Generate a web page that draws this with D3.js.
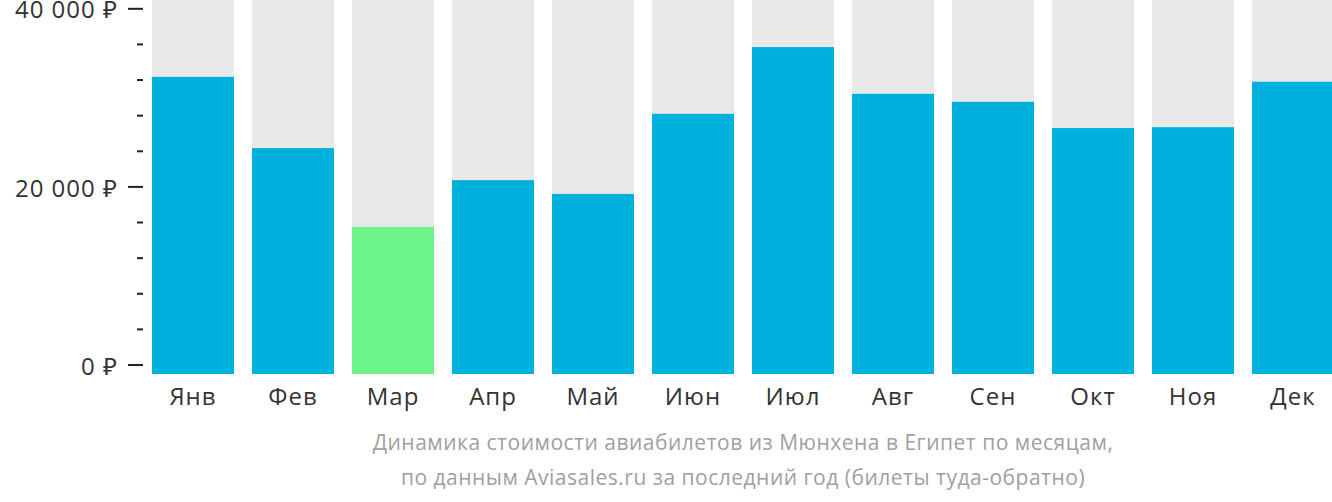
<!DOCTYPE html>
<html>
<head>
<meta charset="utf-8">
<script src="https://cdn.jsdelivr.net/npm/d3@7"></script>
<style>
  html, body { margin: 0; padding: 0; background: #fff; }
  svg { display: block; }
</style>
</head>
<body>
<svg id="chart" width="1332" height="502"></svg>
<script>
const months = ["Янв", "Фев", "Мар", "Апр", "Май", "Июн", "Июл", "Авг", "Сен", "Окт", "Ноя", "Дек"];
const prices = [32300, 24300, 15450, 20700, 19150, 28150, 35650, 30400, 29500, 26550, 26650, 31750];
const cheapestMonth = "Мар";
const yTickValues = [0, 20000, 40000];
const yMinorValues = [4000, 8000, 12000, 16000, 24000, 28000, 32000, 36000];
const captionLines = [
  "Динамика стоимости авиабилетов из Мюнхена в Египет по месяцам,",
  "по данным Aviasales.ru за последний год (билеты туда-обратно)"
];

const svg = d3.select("#chart");
const font = "'Open Sans', 'Noto Sans', sans-serif";

const plotBottom = 374;
const x = d3.scaleBand().domain(months).range([143, 1343]).paddingInner(0.18).paddingOuter(0.09);
const y = d3.scaleLinear().domain([0, 40000]).range([364.5, 8.3]);

// background bars
svg.append("g").selectAll("rect").data(months).join("rect")
  .attr("x", d => x(d)).attr("width", x.bandwidth())
  .attr("y", 0).attr("height", plotBottom)
  .attr("fill", "#e8e8e8");

// value bars
svg.append("g").selectAll("rect").data(months.map((m, i) => ({m, v: prices[i]}))).join("rect")
  .attr("x", d => x(d.m)).attr("width", x.bandwidth())
  .attr("y", d => y(d.v)).attr("height", d => plotBottom - y(d.v))
  .attr("fill", d => d.m === cheapestMonth ? "#6cf48a" : "#00b1dd");

// y axis major
const yAxis = d3.axisLeft(y).tickValues(yTickValues).tickSize(15).tickPadding(10)
  .tickFormat(d => d3.format(",")(d).replace(/,/g, " ") + " ₽");
const gy = svg.append("g").attr("transform", "translate(143,0)").call(yAxis);
gy.select(".domain").remove();
gy.selectAll(".tick line").attr("stroke", "#222").attr("stroke-width", 2);
gy.selectAll(".tick text").attr("fill", "#333").attr("dy", "0.4em")
  .style("font-family", font).style("font-size", "24px").style("letter-spacing", "1px");

// y axis minor
const yMinor = d3.axisLeft(y).tickValues(yMinorValues).tickSize(6).tickFormat("");
const gm = svg.append("g").attr("transform", "translate(143,0)").call(yMinor);
gm.select(".domain").remove();
gm.selectAll(".tick line").attr("stroke", "#222").attr("stroke-width", 2);

// x axis
const xAxis = d3.axisBottom(x).tickSize(0).tickPadding(14);
const gx = svg.append("g").attr("transform", `translate(0,${plotBottom})`).call(xAxis);
gx.select(".domain").remove();
gx.selectAll(".tick text").attr("fill", "#333")
  .style("font-family", font).style("font-size", "24px").style("letter-spacing", "1px");

// caption
const cx = (x(months[0]) + x(months[months.length - 1]) + x.bandwidth()) / 2;
svg.append("g").selectAll("text").data(captionLines).join("text")
  .attr("x", cx).attr("y", (d, i) => 450 + i * 35)
  .attr("text-anchor", "middle")
  .attr("fill", "#a0a0a0")
  .style("font-family", font).style("font-size", "21px").style("letter-spacing", "0.5px")
  .text(d => d);
</script>
</body>
</html>
